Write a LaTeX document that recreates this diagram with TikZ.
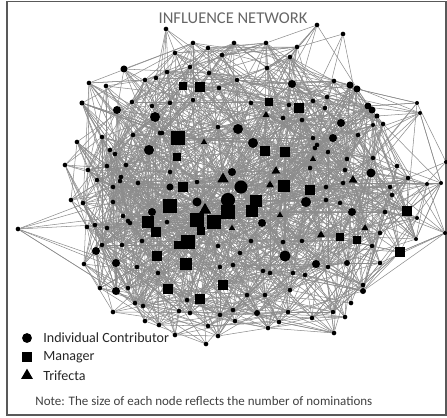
\documentclass[tikz,border=0pt]{standalone}
\usepackage{fontspec}
\setmainfont{Carlito}
\usetikzlibrary{shapes.geometric,positioning,backgrounds}
\tikzset{
  ic/.style={circle,fill=black,inner sep=0pt},
  mgr/.style={rectangle,fill=black,inner sep=0pt},
  tri/.style={regular polygon,regular polygon sides=3,fill=black,inner sep=0pt},
  link/.style={draw=black!45,line width=0.3pt},
  legtext/.style={font=\fontsize{8}{9}\selectfont,text=black!85,inner sep=0pt}
}
\begin{document}
\begin{tikzpicture}[x=0.02cm,y=-0.02cm]
\useasboundingbox (0,0) rectangle (447,417);
\draw[black!65,line width=0.7pt] (7,1.5) rectangle (446,415);
\node[font=\fontsize{9.4}{10}\selectfont,text=black!60] (title) at (233,18) {INFLUENCE NETWORK};
% people: x/y/kind/size
\foreach \x/\y/\sh/\sz [count=\i] in {
166/29/ic/2.3, 317/25/ic/2.3, 343/34/ic/2.3, 193/43/ic/2.3, 208/48/ic/2.3,
234/43/ic/2.3, 266/43/ic/2.3, 297/47/ic/2.3, 175/53/ic/2.3, 222/55/ic/2.3,
290/57/ic/2.3, 124/69/ic/3.5, 167/72/ic/2.3, 190/67/ic/2.3, 209/73/ic/2.3,
267/68/ic/2.3, 89/83/ic/2.3, 106/86/ic/2.3, 145/80/ic/2.3, 156/78/ic/2.3,
183/86/mgr/4, 200/87/mgr/4.5, 219/88/ic/2.3, 237/80/ic/2.3, 292/84/ic/4,
350/85/ic/3.5, 357/89/ic/3.5, 82/103/ic/2.5, 117/110/ic/4, 132/102/ic/2.3,
155/117/ic/5, 170/103/ic/2.3, 193/100/ic/2.3, 251/103/ic/2.3, 269/102/mgr/3.5,
289/105/ic/2.3, 299/108/mgr/5, 313/101/ic/2.3, 327/97/ic/2.3, 368/106/ic/3.5,
372/110/ic/3.5, 377/116/ic/2.5, 417/103/ic/2, 420/113/ic/2, 341/123/ic/4,
373/125/ic/2, 133/135/ic/2.3, 162/133/ic/2.3, 178/138/mgr/6.5, 204/142/tri/3.5,
218/127/ic/2.3, 238/129/ic/5, 266/115/tri/4, 253/143/ic/5, 283/118/ic/2.3,
302/120/ic/2.3, 313/138/ic/2.3, 333/138/ic/4, 358/135/ic/2.3, 77/142/ic/2.3,
102/137/ic/2.3, 149/150/ic/5, 110/150/ic/2.3, 115/154/ic/2.3, 177/157/mgr/3.5,
265/151/mgr/4.5, 285/152/mgr/4.5, 315/148/ic/2.3, 328/152/ic/2.3, 347/159/ic/2.3,
373/158/ic/2.3, 65/165/ic/2.3, 88/170/ic/2.3, 126/165/ic/2.3, 107/166/ic/2.3,
170/172/ic/2.3, 223/179/tri/6.5, 232/172/ic/4, 276/171/tri/5, 313/159/tri/3.5,
345/170/ic/2.3, 353/180/tri/5, 371/173/ic/4.5, 397/166/ic/2.3, 408/178/ic/2.3,
446/162/ic/2, 97/180/ic/2.3, 113/187/ic/2.3, 121/177/ic/2.3, 138/183/ic/2.3,
170/187/ic/3.5, 183/187/mgr/4.5, 197/182/ic/2.3, 241/187/ic/6.5, 284/186/mgr/6,
310/190/mgr/5, 326/187/ic/2.3, 343/183/ic/2.3, 390/187/ic/2.3, 427/184/ic/2,
18/229/ic/2.3, 71/200/ic/2.3, 83/203/ic/2.3, 113/202/ic/2.3, 152/212/ic/4,
170/206/mgr/6.5, 197/202/ic/4.5, 205/210/tri/7, 228/200/ic/7, 228/212/mgr/7,
256/201/mgr/6, 252/211/mgr/6, 270/185/tri/4.5, 306/202/ic/5, 326/200/ic/2.3,
340/203/ic/2.3, 352/212/ic/4, 392/195/ic/2.3, 407/211/mgr/4.5, 417/218/ic/2,
445/233/ic/2, 87/227/ic/2.3, 95/225/ic/2.3, 107/228/ic/2.3, 128/221/ic/2.3,
148/222/mgr/6, 156/232/mgr/5, 167/222/ic/2.3, 197/220/mgr/6.5, 214/222/mgr/6.5,
201/231/mgr/3.5, 232/228/tri/3.5, 262/223/ic/4, 280/215/tri/3.5, 365/228/tri/4,
321/235/tri/4.5, 302/241/ic/2.3, 340/237/mgr/3.5, 357/240/mgr/3.5, 380/233/ic/2.3,
416/239/ic/2, 400/252/mgr/5, 96/251/ic/4, 122/245/ic/2.3, 142/241/ic/2.3,
178/245/mgr/3.5, 188/242/mgr/6.5, 218/246/ic/2.3, 251/241/ic/2.3, 283/242/ic/2.3,
157/256/mgr/4.5, 116/263/ic/4, 84/264/ic/2.3, 186/264/mgr/5.5, 285/256/ic/5.5,
316/264/ic/4, 328/267/ic/2.3, 347/263/ic/3, 380/263/ic/2.3, 233/265/ic/2.3,
270/273/ic/2.3, 293/273/ic/2.3, 158/273/ic/2.3, 137/267/ic/2.3, 223/285/mgr/5,
168/289/mgr/5, 116/291/ic/4, 100/288/ic/2.3, 363/285/ic/2.3, 363/291/ic/3,
247/295/ic/2.3, 135/303/ic/2.3, 200/299/mgr/5, 143/306/ic/2.3, 233/310/ic/2.3,
179/311/ic/2.3, 257/313/ic/3, 279/322/ic/2.3, 220/315/ic/2.3, 351/303/ic/2.3,
333/312/ic/2.3, 113/312/ic/2.3, 145/321/ic/2.3, 159/325/ic/2.3, 175/335/ic/2.3,
206/344/ic/2.3, 268/328/ic/2.3, 334/333/ic/2.3, 312/318/ic/2.3, 220/267/ic/2.3,
240/253/ic/2.3, 263/271/ic/2.3, 265/295/ic/2.3, 290/290/ic/2.3, 187/300/ic/2.3,
190/313/ic/2.3, 208/326/ic/2.3, 235/321/ic/2.3, 218/336/ic/2.3, 288/312/ic/2.3,
345/317/ic/2.3, 305/275/ic/2.3, 123/216/ic/2.3, 130/223/ic/2.3, 102/245/ic/2.3,
128/288/ic/2.3, 152/106/ic/2.3, 160/133/ic/2.3, 120/181/ic/2.3, 334/81/ic/2.3,
325/108/ic/2.3, 383/124/ic/2.3, 317/145/ic/2.3, 310/168/ic/2.3, 385/212/ic/2.3,
372/246/ic/2.3, 441/183/ic/2}
{
  \node[\sh,minimum size=1.15*\sz pt] (n\i) at (\x,\y) {};
  \expandafter\xdef\csname cx\i\endcsname{\x}
  \expandafter\xdef\csname cy\i\endcsname{\y}
  \expandafter\xdef\csname cs\i\endcsname{\sz}
  \xdef\N{\i}
}
% nominations
\begin{pgfonlayer}{background}
\pgfmathsetseed{11}
\foreach \i in {1,...,\N}{
  \pgfmathtruncatemacro\m{24+10*\csname cs\i\endcsname}
  \foreach \k in {1,...,\m}{
    \pgfmathtruncatemacro\j{random(1,\N)}
    \edef\xa{\csname cx\i\endcsname}\edef\ya{\csname cy\i\endcsname}
    \edef\xb{\csname cx\j\endcsname}\edef\yb{\csname cy\j\endcsname}
    \pgfmathsetmacro\d{veclen(\xa-\xb,\ya-\yb)-165*rnd}
    \ifnum\i=\j\else
      \ifdim\d pt<0pt \draw[link] (n\i) -- (n\j);\fi
    \fi
  }
}
\end{pgfonlayer}
% legend
\node[ic,minimum size=5.6pt] (legic) at (27,338) {};
\node[mgr,minimum size=5.6pt] (legmgr) at (27,357) {};
\node[tri,minimum size=7.8pt] (legtri) at (27,375.5) {};
\node[legtext,anchor=west] (legictext) at (43,338) {Individual Contributor};
\node[legtext,anchor=west] (legmgrtext) at (43,357) {Manager};
\node[legtext,anchor=west] (legtritext) at (43,376) {Trifecta};
\node[anchor=west,font=\fontsize{7.4}{8}\selectfont,text=black!75,inner sep=0pt] (note) at (35,401)
  {Note: The size of each node reflects the number of nominations};
\end{tikzpicture}
\end{document}
